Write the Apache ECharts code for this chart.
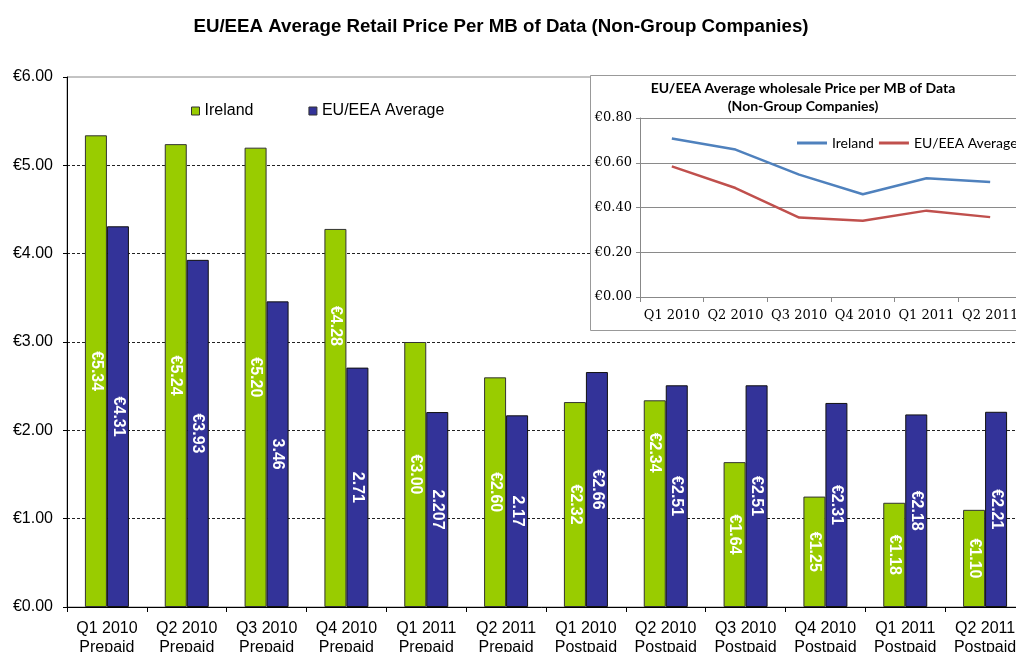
<!DOCTYPE html>
<html><head><meta charset="utf-8">
<script src="https://cdn.jsdelivr.net/npm/echarts@6/dist/echarts.min.js"></script>
<style>html,body{margin:0;padding:0;background:#fff}#c{width:1016px;height:652px}</style>
</head><body><div id="c"></div>
<script>
// ---- Main chart data ----
const categories = ['Q1 2010\nPrepaid','Q2 2010\nPrepaid','Q3 2010\nPrepaid','Q4 2010\nPrepaid',
  'Q1 2011\nPrepaid','Q2 2011\nPrepaid','Q1 2010\nPostpaid','Q2 2010\nPostpaid',
  'Q3 2010\nPostpaid','Q4 2010\nPostpaid','Q1 2011\nPostpaid','Q2 2011\nPostpaid'];
const irelandRetail = [5.34,5.24,5.20,4.28,3.00,2.60,2.32,2.34,1.64,1.25,1.18,1.10];
const euRetail = [4.31,3.93,3.46,2.71,2.207,2.17,2.66,2.51,2.51,2.31,2.18,2.21];
const irelandLabels = ['€5.34','€5.24','€5.20','€4.28','€3.00','€2.60','€2.32','€2.34','€1.64','€1.25','€1.18','€1.10'];
const euLabels = ['€4.31','€3.93','3.46','2.71','2.207','2.17','€2.66','€2.51','€2.51','€2.31','€2.18','€2.21'];
const seriesNames = ['Ireland','EU/EEA Average'];

// ---- Inset chart data ----
const insetCategories = ['Q1 2010','Q2 2010','Q3 2010','Q4 2010','Q1 2011','Q2 2011'];
const irelandWholesale = [0.708,0.659,0.547,0.459,0.531,0.514];
const euWholesale = [0.584,0.487,0.355,0.341,0.386,0.357];

const SANS = "'Liberation Sans', Arial, sans-serif";
const CAL = "Lato, 'Open Sans', sans-serif";
const SERIF = "'DejaVu Serif', serif";

// label nudges (style only): move some labels up along the bar
const irelandNudge = {3: -92, 7: -51};

const chart = echarts.init(document.getElementById('c'), null, {renderer: 'canvas'});

const barLabel = (texts) => ({
  show: true, position: 'inside', rotate: -90, color: '#fff',
  fontFamily: SANS, fontWeight: 'bold', fontSize: 16,
  formatter: p => texts[p.dataIndex]
});

const option = {
  backgroundColor: '#fff',
  animation: false,
  title: {
    text: 'EU/EEA Average Retail Price Per MB of Data (Non-Group Companies)',
    left: 496, top: 12, textAlign: 'center',
    textStyle: {fontFamily: SANS, fontWeight: 'bold', fontSize: 18.7, color: '#000'}
  },
  legend: [{
    data: seriesNames,
    left: 186, top: 98, icon: 'rect', itemWidth: 8, itemHeight: 8, itemGap: 55,
    itemStyle: {borderColor: '#333', borderWidth: 1},
    textStyle: {fontFamily: SANS, fontSize: 16, color: '#000'}
  }, {
    data: seriesNames.map(n => n + ' (wholesale)'),
    formatter: n => n.replace(' (wholesale)', ''),
    orient: 'horizontal', width: 400,
    left: 792, top: 131, icon: 'rect', itemWidth: 30, itemHeight: 3, itemGap: 5, z: 80,
    textStyle: {fontFamily: CAL, fontSize: 14, color: '#000'}
  }],
  grid: [{
    left: 67, top: 77, width: 958, height: 530, outerBoundsMode: 'none',
    show: true, borderColor: '#888', borderWidth: 1, backgroundColor: 'transparent'
  }, {
    left: 640, top: 118, width: 382, height: 179, outerBoundsMode: 'none'
  }],
  xAxis: [{
    type: 'category', data: categories, gridIndex: 0,
    axisLine: {lineStyle: {color: '#000', width: 1}},
    axisTick: {show: true, length: 5, lineStyle: {color: '#000'}},
    axisLabel: {interval: 0, fontFamily: SANS, fontSize: 16, lineHeight: 19, color: '#000', margin: 12}
  }, {
    type: 'category', data: insetCategories, gridIndex: 1, z: 60,
    axisLine: {lineStyle: {color: '#888', width: 1}},
    axisTick: {show: true, length: 5, lineStyle: {color: '#888'}},
    axisLabel: {interval: 0, fontFamily: SERIF, fontSize: 13, color: '#000', margin: 12}
  }],
  yAxis: [{
    type: 'value', gridIndex: 0, min: 0, max: 6, interval: 1,
    axisLine: {show: true, lineStyle: {color: '#000', width: 1}},
    axisTick: {show: true, length: 4, lineStyle: {color: '#000'}},
    axisLabel: {formatter: v => '€' + v.toFixed(2), fontFamily: SANS, fontSize: 16, color: '#000', margin: 14},
    splitLine: {show: true, lineStyle: {color: ['#222','#222','#222','#222','#222','#222','rgba(0,0,0,0)'], width: 1, type: [3, 2]}}
  }, {
    type: 'value', gridIndex: 1, min: 0, max: 0.8, interval: 0.2, z: 60,
    axisLine: {show: true, lineStyle: {color: '#888', width: 1}},
    axisTick: {show: true, length: 4, lineStyle: {color: '#888'}},
    axisLabel: {formatter: v => '€' + v.toFixed(2), fontFamily: SERIF, fontSize: 13, color: '#000', margin: 8},
    splitLine: {show: true, lineStyle: {color: '#8a8a8a', width: 1, type: 'solid'}}
  }],
  graphic: [{
    type: 'rect', z: 50, silent: true,
    shape: {x: 590.5, y: 75.5, width: 450, height: 255},
    style: {fill: '#fff', stroke: '#999', lineWidth: 1}
  }, {
    type: 'text', z: 80, silent: true, x: 803, y: 79,
    style: {
      text: 'EU/EEA Average wholesale Price per MB of Data\n(Non-Group Companies)',
      align: 'center', verticalAlign: 'top', lineHeight: 18,
      font: "bold 14px Lato, 'Open Sans', sans-serif", fill: '#000'
    }
  }],
  series: [{
    name: seriesNames[0], type: 'bar', xAxisIndex: 0, yAxisIndex: 0,
    barWidth: 22, barGap: '0%',
    data: irelandRetail.map((v, i) => irelandNudge[i] !== undefined
      ? {value: v, label: {offset: [irelandNudge[i], 0]}} : v),
    itemStyle: {color: '#99CC00', borderColor: '#333', borderWidth: 1},
    label: barLabel(irelandLabels)
  }, {
    name: seriesNames[1], type: 'bar', xAxisIndex: 0, yAxisIndex: 0,
    barWidth: 22, barGap: '0%',
    data: euRetail,
    itemStyle: {color: '#333399', borderColor: '#111', borderWidth: 1},
    label: barLabel(euLabels)
  }, {
    name: seriesNames[0] + ' (wholesale)', type: 'line', xAxisIndex: 1, yAxisIndex: 1, z: 70,
    data: irelandWholesale, symbol: 'none', smooth: false,
    color: '#4F81BD', lineStyle: {color: '#4F81BD', width: 2.5}
  }, {
    name: seriesNames[1] + ' (wholesale)', type: 'line', xAxisIndex: 1, yAxisIndex: 1, z: 70,
    data: euWholesale, symbol: 'none', smooth: false,
    color: '#C0504D', lineStyle: {color: '#C0504D', width: 2.5}
  }]
};
chart.setOption(option);
</script>
</body></html>
